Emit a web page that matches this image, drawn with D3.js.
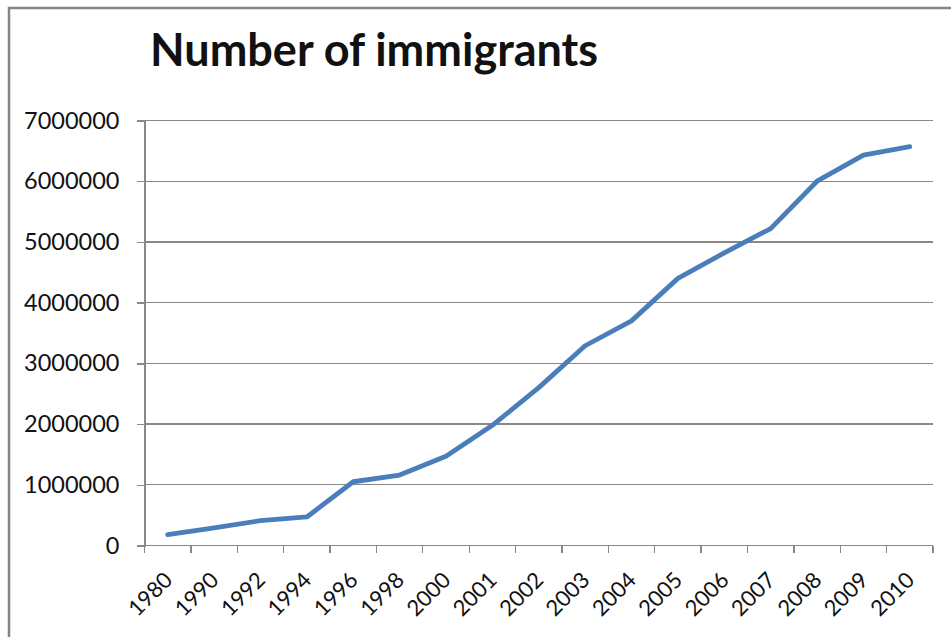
<!DOCTYPE html>
<meta charset="utf-8">
<html>
  <style>
    body, html { margin: 0; background: #fff; }
    text { font-family: Lato, "Open Sans", sans-serif; fill: #111; }
    .title { font-weight: bold; font-size: 45px; }
    .axis text { font-size: 23.5px; }
    .axis text.lbl { font-size: 22px; }
    .grid line, .axis line, .axis path { stroke: #888; stroke-width: 1.3; shape-rendering: crispEdges; }
    .series { fill: none; stroke: #4a7ebb; stroke-width: 4.8; stroke-linejoin: round; stroke-linecap: round; }
  </style>
  <body>
    <svg></svg>
    <script src="https://cdn.jsdelivr.net/npm/d3@7"></script>
    <script>
var years = ['1980', '1990', '1992', '1994', '1996', '1998', '2000', '2001', '2002',
             '2003', '2004', '2005', '2006', '2007', '2008', '2009', '2010']
var immigrants = [180000, 290000, 410000, 470000, 1050000, 1160000, 1470000, 1980000, 2600000,
                  3290000, 3700000, 4400000, 4820000, 5220000, 6000000, 6430000, 6570000]
var yTicks = [0, 1000000, 2000000, 3000000, 4000000, 5000000, 6000000, 7000000]
var title = 'Number of immigrants'

var w = 951, h = 637
  , m = { left: 144.5, right: 951 - 933, top: 120.5, bottom: 637 - 545.5 }
  , svg = d3.select('svg').attr('width', w).attr('height', h)

// chart frame, cut off on the right and bottom like the screenshot
svg.append('rect')
  .attr('x', 9).attr('y', 8).attr('width', w + 20).attr('height', h + 20)
  .attr('fill', 'none').attr('stroke', '#858585').attr('stroke-width', 2.5)

svg.append('text').attr('class', 'title')
  .attr('x', 150).attr('y', 66).text(title)

var x = d3.scaleBand().domain(years).range([m.left, w - m.right])
  , y = d3.scaleLinear().domain([0, 7000000]).range([h - m.bottom, m.top])

svg.append('g').attr('class', 'grid')
  .selectAll('line').data(yTicks.slice(1)).enter().append('line')
  .attr('x1', m.left).attr('x2', w - m.right)
  .attr('y1', function(d){ return y(d) }).attr('y2', function(d){ return y(d) })

svg.append('g').attr('class', 'axis')
  .attr('transform', 'translate(' + m.left + ',0)')
  .call(d3.axisLeft(y).tickValues(yTicks).tickFormat(d3.format('d')).tickSizeOuter(0).tickSize(8).tickPadding(17))

// category axis: ticks sit on the boundaries between categories
var bounds = years.map(function(d){ return x(d) }).concat([w - m.right])
var xAxis = svg.append('g').attr('class', 'axis')
  .attr('transform', 'translate(0,' + (h - m.bottom) + ')')
xAxis.append('line').attr('x1', m.left).attr('x2', w - m.right)
xAxis.selectAll('.tick').data(bounds).enter().append('line')
  .attr('x1', function(d){ return d }).attr('x2', function(d){ return d })
  .attr('y1', 0).attr('y2', 7)
// rotated labels: the end of each label sits just under its category
xAxis.selectAll('.lbl').data(years).enter().append('text')
  .attr('class', 'lbl')
  .attr('text-anchor', 'end')
  .attr('transform', function(d){
    return 'translate(' + (x(d) + x.bandwidth() / 2 + 6) + ',36) rotate(-45)'
  })
  .text(function(d){ return d })

var line = d3.line()
  .x(function(d, i){ return x(years[i]) + x.bandwidth() / 2 })
  .y(function(d){ return y(d) })

svg.append('path').attr('class', 'series').attr('d', line(immigrants))
    </script>
  </body>
</html>
